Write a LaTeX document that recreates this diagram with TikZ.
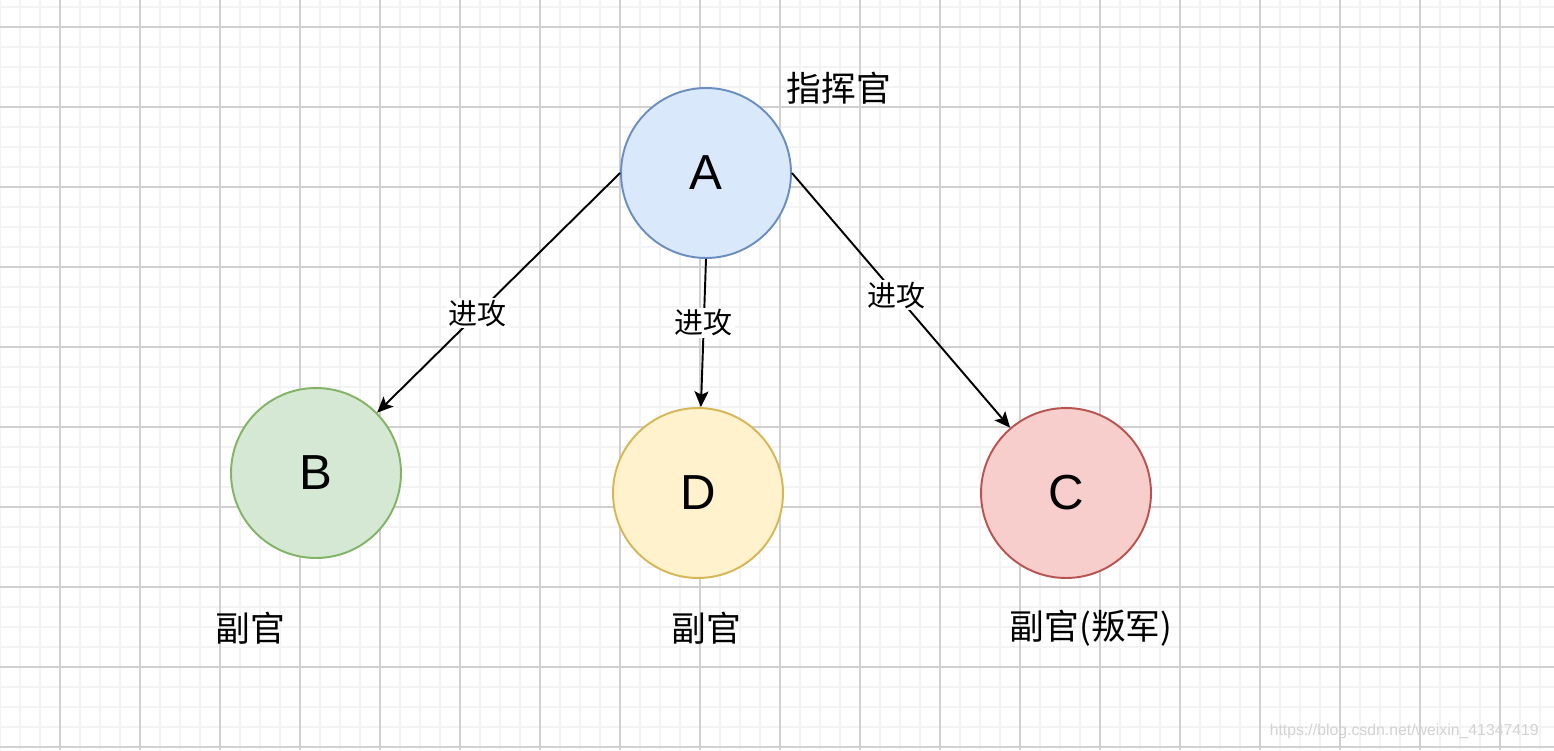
\documentclass[tikz,border=0pt]{standalone}
\usepackage{fontspec}
\setmainfont{Liberation Sans}
\newfontfamily\cjk{Noto Sans CJK SC}
\usepackage{xcolor}
\usepackage{tikz}
\usetikzlibrary{arrows.meta,positioning}

\definecolor{blueF}{HTML}{DAE8FC}\definecolor{blueS}{HTML}{6C8EBF}
\definecolor{greenF}{HTML}{D5E8D4}\definecolor{greenS}{HTML}{82B366}
\definecolor{yellowF}{HTML}{FFF2CC}\definecolor{yellowS}{HTML}{D6B656}
\definecolor{redF}{HTML}{F8CECC}\definecolor{redS}{HTML}{B85450}
\definecolor{gridMinor}{HTML}{F3F3F3}\definecolor{gridMajor}{HTML}{D0D0D0}

\begin{document}
\begin{tikzpicture}[
  x=0.02cm,y=-0.02cm,
  agent/.style={circle,minimum size=3.4cm,inner sep=0pt,line width=1.1pt,font=\fontsize{28}{30}\selectfont},
  atk/.style={-{Stealth[length=9pt,width=8pt,inset=2pt]},line width=1.1pt},
  lbl/.style={fill=white,inner sep=1pt,font=\cjk\fontsize{16.5}{18}\selectfont},
  role/.style={font=\cjk\fontsize{19.8}{22}\selectfont}
]
\useasboundingbox (0,0) rectangle (1554,750);
\fill[white] (0,0) rectangle (1554,750);

% grid
\foreach \x in {0,20,...,1554}
  \draw[gridMinor,line width=1.1pt] (\x,0) -- (\x,750);
\foreach \y in {7,27,...,750}
  \draw[gridMinor,line width=1.1pt] (0,\y) -- (1554,\y);
\foreach \x in {60,140,...,1554}
  \draw[gridMajor,line width=0.8pt] (\x,0) -- (\x,750);
\foreach \y in {27,107,...,750}
  \draw[gridMajor,line width=0.8pt] (0,\y) -- (1554,\y);

% generals
\node[agent,fill=blueF,draw=blueS] (genA) at (706,173) {A};
\node[agent,fill=greenF,draw=greenS] (genB) at (316,473) {B};
\node[agent,fill=yellowF,draw=yellowS] (genD) at (698,493) {D};
\node[agent,fill=redF,draw=redS] (genC) at (1066,493) {C};

\node[role] (roleA) at (839,88) {指挥官};
\node[role] (roleB) at (250,628) {副官};
\node[role] (roleD) at (706,628) {副官};
\node[role] (roleC) at (1091,628) {副官(叛军)};

% orders
\draw[atk] (genA.west) -- node[lbl,pos=0.585] {进攻} (genB);
\draw[atk] (genA.south) -- node[lbl,pos=0.43] {进攻} (genD);
\draw[atk] (genA.east) -- node[lbl,pos=0.48] {进攻} (genC);

\node[anchor=east,text=gray!35,font=\fontsize{9}{10}\selectfont] (mark) at (1545,731) {https://blog.csdn.net/weixin\_41347419};
\end{tikzpicture}
\end{document}
